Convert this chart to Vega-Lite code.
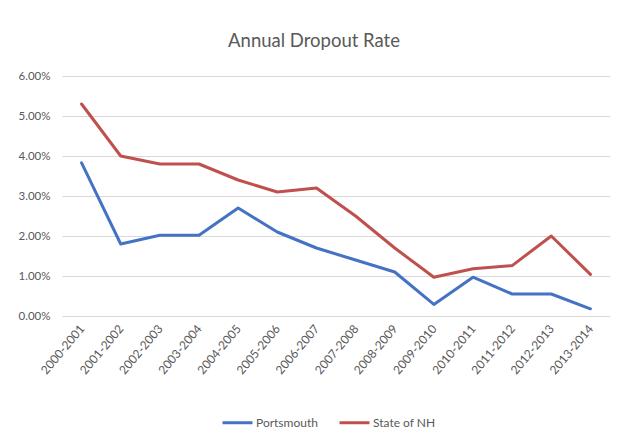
{
  "$schema": "https://vega.github.io/schema/vega-lite/v6.json",
  "autosize": {"type": "none"},
  "padding": {"left": 62, "top": 76, "right": 11, "bottom": 118},
  "width": 548,
  "height": 240,
  "background": "white",
  "title": {
    "text": "Annual Dropout Rate",
    "font": "Lato",
    "fontSize": 18.5,
    "fontWeight": "normal",
    "color": "#595959",
    "anchor": "middle",
    "frame": "bounds",
    "offset": 20
  },
  "data": {
    "values": [
      {"year": "2000-2001", "series": "Portsmouth", "rate": 0.0383},
      {"year": "2001-2002", "series": "Portsmouth", "rate": 0.018},
      {"year": "2002-2003", "series": "Portsmouth", "rate": 0.0202},
      {"year": "2003-2004", "series": "Portsmouth", "rate": 0.0202},
      {"year": "2004-2005", "series": "Portsmouth", "rate": 0.027},
      {"year": "2005-2006", "series": "Portsmouth", "rate": 0.021},
      {"year": "2006-2007", "series": "Portsmouth", "rate": 0.017},
      {"year": "2007-2008", "series": "Portsmouth", "rate": 0.014},
      {"year": "2008-2009", "series": "Portsmouth", "rate": 0.011},
      {"year": "2009-2010", "series": "Portsmouth", "rate": 0.0029},
      {"year": "2010-2011", "series": "Portsmouth", "rate": 0.0097},
      {"year": "2011-2012", "series": "Portsmouth", "rate": 0.0055},
      {"year": "2012-2013", "series": "Portsmouth", "rate": 0.0055},
      {"year": "2013-2014", "series": "Portsmouth", "rate": 0.0018},
      {"year": "2000-2001", "series": "State of NH", "rate": 0.053},
      {"year": "2001-2002", "series": "State of NH", "rate": 0.04},
      {"year": "2002-2003", "series": "State of NH", "rate": 0.038},
      {"year": "2003-2004", "series": "State of NH", "rate": 0.038},
      {"year": "2004-2005", "series": "State of NH", "rate": 0.034},
      {"year": "2005-2006", "series": "State of NH", "rate": 0.031},
      {"year": "2006-2007", "series": "State of NH", "rate": 0.032},
      {"year": "2007-2008", "series": "State of NH", "rate": 0.025},
      {"year": "2008-2009", "series": "State of NH", "rate": 0.017},
      {"year": "2009-2010", "series": "State of NH", "rate": 0.0097},
      {"year": "2010-2011", "series": "State of NH", "rate": 0.0118},
      {"year": "2011-2012", "series": "State of NH", "rate": 0.0126},
      {"year": "2012-2013", "series": "State of NH", "rate": 0.02},
      {"year": "2013-2014", "series": "State of NH", "rate": 0.0104}
    ]
  },
  "mark": {"type": "line", "strokeWidth": 3, "strokeCap": "round", "strokeJoin": "round"},
  "encoding": {
    "x": {
      "field": "year",
      "type": "ordinal",
      "scale": {"type": "point", "padding": 0.5},
      "axis": {
        "title": null,
        "labelAngle": -50,
        "labelAlign": "right",
        "labelBaseline": "middle",
        "labelFont": "Lato",
        "labelFontSize": 12,
        "labelColor": "#595959",
        "labelPadding": 10,
        "ticks": false,
        "domain": false,
        "grid": false
      }
    },
    "y": {
      "field": "rate",
      "type": "quantitative",
      "scale": {"domain": [0, 0.06], "nice": false},
      "axis": {
        "title": null,
        "format": ".2%",
        "values": [0, 0.01, 0.02, 0.03, 0.04, 0.05, 0.06],
        "labelFont": "Lato",
        "labelFontSize": 11.5,
        "labelColor": "#595959",
        "labelPadding": 12,
        "ticks": false,
        "domain": false,
        "grid": true,
        "gridColor": "#D9D9D9",
        "gridWidth": 1
      }
    },
    "color": {
      "field": "series",
      "type": "nominal",
      "scale": {"domain": ["Portsmouth", "State of NH"], "range": ["#4472C4", "#C0504D"]},
      "legend": {
        "title": null,
        "orient": "none",
        "legendX": 159,
        "legendY": 330,
        "direction": "horizontal",
        "symbolType": "stroke",
        "symbolStrokeWidth": 3,
        "symbolSize": 900,
        "labelOffset": 2,
        "labelFont": "Lato",
        "labelFontSize": 12,
        "labelColor": "#595959",
        "columnPadding": 15
      }
    }
  },
  "config": {"view": {"stroke": null}}
}
